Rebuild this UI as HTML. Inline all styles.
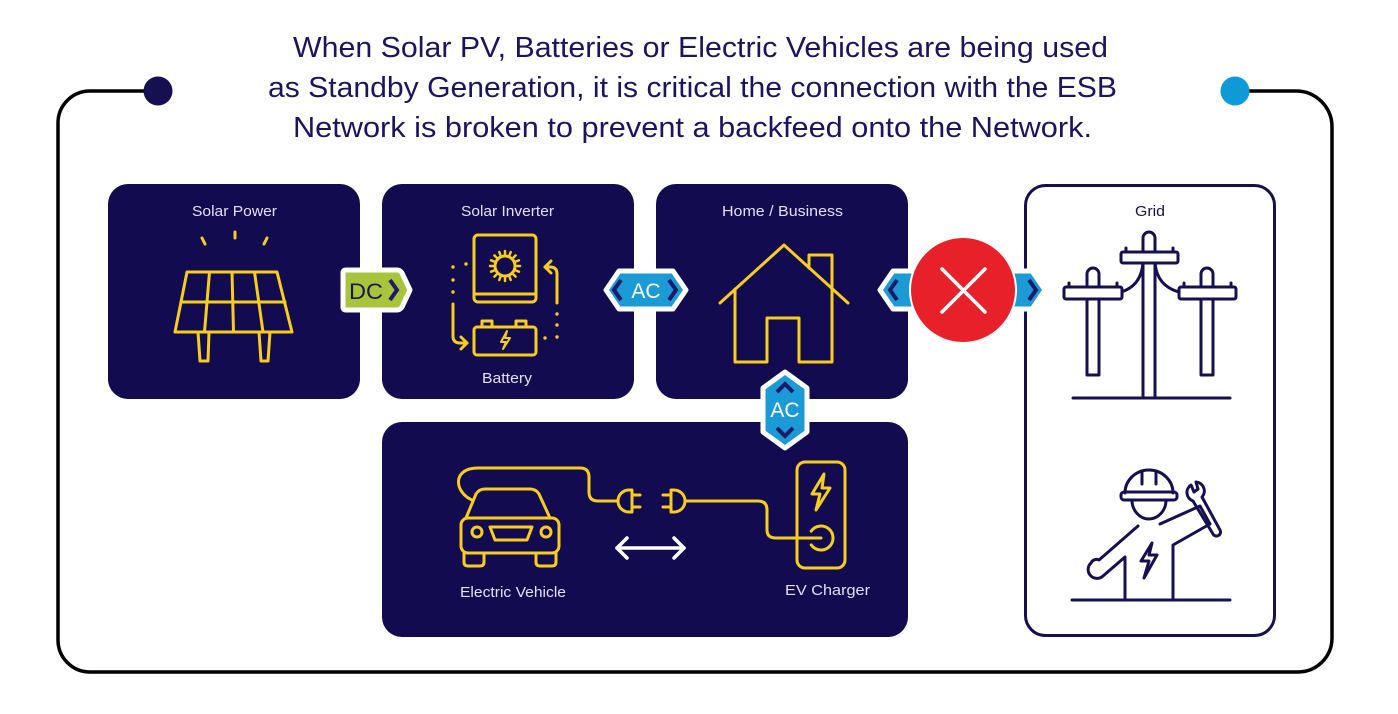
<!DOCTYPE html>
<html>
<head>
<meta charset="utf-8">
<style>
html,body{margin:0;padding:0;background:#fff;}
svg{display:block;}
</style>
</head>
<body>
<svg width="1398" height="714" viewBox="0 0 1398 714" xmlns="http://www.w3.org/2000/svg">
<rect width="1398" height="714" fill="#fff"/>

<!-- Title -->
<g font-family="'Liberation Sans', sans-serif" font-size="29" fill="#1b1560">
<text x="293" y="57" textLength="815" lengthAdjust="spacingAndGlyphs">When Solar PV, Batteries or Electric Vehicles are being used</text>
<text x="268" y="97" textLength="849" lengthAdjust="spacingAndGlyphs">as Standby Generation, it is critical the connection with the ESB</text>
<text x="293" y="137" textLength="799" lengthAdjust="spacingAndGlyphs">Network is broken to prevent a backfeed onto the Network.</text>
</g>

<!-- Frame -->
<path d="M158 91 L90 91 A32 32 0 0 0 58 123 L58 640 A32 32 0 0 0 90 672 L1298 672 A34 34 0 0 0 1332 638 L1332 127 A36 36 0 0 0 1296 91 L1235 91" fill="none" stroke="#000" stroke-width="3.5"/>
<circle cx="158" cy="91" r="14.5" fill="#15104f"/>
<circle cx="1235" cy="91" r="14.5" fill="#0e9ad7"/>

<!-- Dark boxes -->
<g fill="#130b4f">
<rect x="108" y="184" width="252" height="215" rx="20"/>
<rect x="382" y="184" width="252" height="215" rx="20"/>
<rect x="656" y="184" width="252" height="215" rx="20"/>
<rect x="382" y="422" width="526" height="215" rx="20"/>
</g>
<!-- Grid box -->
<rect x="1025.5" y="185.5" width="249" height="450" rx="20" fill="#fff" stroke="#15104f" stroke-width="3"/>

<!-- Labels -->
<g font-family="'Liberation Sans', sans-serif" font-size="15" fill="#e2def5">
<text x="192" y="216" textLength="85" lengthAdjust="spacingAndGlyphs">Solar Power</text>
<text x="461" y="216" textLength="93" lengthAdjust="spacingAndGlyphs">Solar Inverter</text>
<text x="482" y="383" textLength="50" lengthAdjust="spacingAndGlyphs">Battery</text>
<text x="722" y="216" textLength="121" lengthAdjust="spacingAndGlyphs">Home / Business</text>
<text x="460" y="597" textLength="106" lengthAdjust="spacingAndGlyphs">Electric Vehicle</text>
<text x="785" y="595" textLength="85" lengthAdjust="spacingAndGlyphs">EV Charger</text>
</g>
<text x="1135" y="216" font-family="'Liberation Sans', sans-serif" font-size="15" fill="#15104f" textLength="30" lengthAdjust="spacingAndGlyphs">Grid</text>

<!-- Yellow icons -->
<g fill="none" stroke="#f7cd1e" stroke-width="3" stroke-linecap="round" stroke-linejoin="round">
<!-- solar panel -->
<line x1="202" y1="238" x2="205" y2="244"/>
<line x1="235" y1="232" x2="235" y2="238"/>
<line x1="267" y1="238" x2="264" y2="244"/>
<path d="M187 272 L277 272 L292 332 L175 332 Z"/>
<line x1="181" y1="302" x2="285" y2="302"/>
<line x1="209.5" y1="272" x2="204.5" y2="332"/>
<line x1="232" y1="272" x2="233.5" y2="332"/>
<line x1="254.5" y1="272" x2="263" y2="332"/>
<path d="M198 332 L209 332 L208 361 L200 361 Z"/>
<path d="M259 332 L270 332 L268 361 L261 361 Z"/>

<!-- inverter -->
<rect x="474" y="235" width="62" height="67" rx="4"/>
<line x1="474" y1="294" x2="536" y2="294"/>
<circle cx="505" cy="266" r="10"/>
<g stroke-width="2.5">
<line x1="505" y1="251" x2="505" y2="254"/><line x1="505" y1="278" x2="505" y2="281"/>
<line x1="490" y1="266" x2="493" y2="266"/><line x1="517" y1="266" x2="520" y2="266"/>
<line x1="494.4" y1="255.4" x2="496.5" y2="257.5"/><line x1="513.5" y1="274.5" x2="515.6" y2="276.6"/>
<line x1="515.6" y1="255.4" x2="513.5" y2="257.5"/><line x1="496.5" y1="274.5" x2="494.4" y2="276.6"/>
<line x1="499.3" y1="252.1" x2="500.4" y2="254.9"/><line x1="509.6" y1="277.1" x2="510.7" y2="279.9"/>
<line x1="510.7" y1="252.1" x2="509.6" y2="254.9"/><line x1="500.4" y1="277.1" x2="499.3" y2="279.9"/>
<line x1="491.1" y1="260.3" x2="493.9" y2="261.4"/><line x1="516.1" y1="270.6" x2="518.9" y2="271.7"/>
<line x1="491.1" y1="271.7" x2="493.9" y2="270.6"/><line x1="516.1" y1="261.4" x2="518.9" y2="260.3"/>
</g>
<rect x="474" y="327" width="62" height="28" rx="3"/>
<rect x="482" y="321" width="10" height="6"/>
<rect x="516" y="321" width="10" height="6"/>
<path d="M507 331 L501 342 L506 342 L503 349 L510 338 L505 338 Z" stroke-width="2"/>
<!-- arrows around inverter -->
<path d="M453 304 L453 336 Q453 343 460 343 L467 343"/>
<path d="M461 337 L467 343 L461 349"/>
<path d="M557 303 L557 274 Q557 267 550 267 L545 267"/>
<path d="M551 261 L545 267 L551 273"/>
</g>
<g fill="#f7cd1e">
<circle cx="466" cy="264" r="1.7"/><circle cx="453" cy="267" r="1.7"/><circle cx="453" cy="280" r="1.7"/><circle cx="453" cy="292" r="1.7"/>
<circle cx="557" cy="314" r="1.7"/><circle cx="557" cy="325" r="1.7"/><circle cx="557" cy="337" r="1.7"/><circle cx="545" cy="338" r="1.7"/>
</g>

<g fill="none" stroke="#f7cd1e" stroke-width="3" stroke-linecap="round" stroke-linejoin="round">
<!-- house -->
<path d="M720 303 L784 245 L848 303"/>
<path d="M735 289 L735 362 L767 362 L767 318 L799 318 L799 362 L832 362 L832 289"/>
<path d="M809 268 L809 255 L832 255 L832 289"/>

<!-- car -->
<path d="M466 518 L476 494 Q479 489 485 489 L530 489 Q536 489 539 494 L550 518"/>
<rect x="461" y="518" width="98" height="35" rx="7"/>
<path d="M464 553 L464 562 Q464 566 468 566 L480 566 Q484 566 484 562 L484 553"/>
<path d="M536 553 L536 562 Q536 566 540 566 L552 566 Q556 566 556 562 L556 553"/>
<circle cx="477" cy="532" r="5"/>
<circle cx="546" cy="532" r="5"/>
<path d="M490 527 L532 527 L527 540 L495 540 Z"/>
<!-- cable 1 -->
<path d="M472 500 C454 492 452 468 478 468 L580 468 Q589 468 589 477 L589 492 Q589 501 598 501 L618 501"/>
<!-- plug 1 -->
<path d="M632 490 L629 490 A11 11 0 0 0 629 512 L632 512 Z"/>
<line x1="632" y1="495" x2="640" y2="495"/>
<line x1="632" y1="507" x2="640" y2="507"/>
<!-- plug 2 -->
<path d="M671 490 L674 490 A11 11 0 0 1 674 512 L671 512 Z"/>
<line x1="663" y1="495" x2="671" y2="495"/>
<line x1="663" y1="507" x2="671" y2="507"/>
<!-- cable 2 -->
<path d="M685 501 L758 501 Q767 501 767 510 L767 530 Q767 538 776 538 L821 538"/>
<!-- charger -->
<rect x="797" y="462" width="48" height="106" rx="8"/>
<path d="M824 474 L812 494 L820 494 L816 510 L830 488 L822 488 Z"/>
<path d="M811.2 531.1 A12 12 0 1 1 811.2 544.9"/>
</g>

<!-- double arrow -->
<g fill="none" stroke="#fff" stroke-width="3.5" stroke-linecap="round" stroke-linejoin="round">
<line x1="617" y1="548" x2="684" y2="548"/>
<path d="M627 538 L617 548 L627 558"/>
<path d="M674 538 L684 548 L674 558"/>
</g>

<!-- DC badge -->
<path d="M346 270 L397 270 Q400 270 402 273 L410 290 L402 307 Q400 310 397 310 L346 310 Q343 310 343 307 L343 273 Q343 270 346 270 Z" fill="#a8c43a" stroke="#fff" stroke-width="5" stroke-linejoin="round"/>
<text x="349" y="299" font-family="'Liberation Sans', sans-serif" font-size="22" fill="#1a1850" textLength="34" lengthAdjust="spacingAndGlyphs">DC</text>
<path d="M390 280 L397 290 L390 300" fill="none" stroke="#1e1a6b" stroke-width="4"/>

<!-- AC badge 1 (horizontal) -->
<path d="M606 290 L619 271 L673 271 L686 290 L673 309 L619 309 Z" fill="#1c9ad6" stroke="#fff" stroke-width="5" stroke-linejoin="round"/>
<path d="M621 280 L614 290 L621 300" fill="none" stroke="#1e1a6b" stroke-width="4"/>
<path d="M669 280 L676 290 L669 300" fill="none" stroke="#1e1a6b" stroke-width="4"/>
<text x="646" y="298" text-anchor="middle" font-family="'Liberation Sans', sans-serif" font-size="21" fill="#fff">AC</text>

<!-- AC badge 2 (home-grid) -->
<path d="M880 290 L893 271 L1032 271 L1045 290 L1032 309 L893 309 Z" fill="#1c9ad6" stroke="#fff" stroke-width="5" stroke-linejoin="round"/>
<path d="M897 280 L890 290 L897 300" fill="none" stroke="#1e1a6b" stroke-width="4"/>
<path d="M1029 280 L1036 290 L1029 300" fill="none" stroke="#1e1a6b" stroke-width="4"/>
<circle cx="963" cy="290" r="53" fill="#e8202a" stroke="#fff" stroke-width="2"/>
<g stroke="#fff" stroke-width="3.5" stroke-linecap="round">
<line x1="942" y1="269" x2="985" y2="312"/>
<line x1="985" y1="269" x2="942" y2="312"/>
</g>

<!-- AC badge 3 (vertical) -->
<path d="M785 372 L807 388 L807 432 L785 448 L763 432 L763 388 Z" fill="#1c9ad6" stroke="#fff" stroke-width="5" stroke-linejoin="round"/>
<path d="M777 392 L785 384 L793 392" fill="none" stroke="#1e1a6b" stroke-width="4"/>
<path d="M777 428 L785 436 L793 428" fill="none" stroke="#1e1a6b" stroke-width="4"/>
<text x="785" y="417" text-anchor="middle" font-family="'Liberation Sans', sans-serif" font-size="21" fill="#fff">AC</text>

<!-- Grid poles -->
<g fill="#fff" stroke="#15104f" stroke-width="3" stroke-linejoin="round" stroke-linecap="round">
<path d="M1143 398 L1143 238 A6 6 0 0 1 1155 238 L1155 398"/>
<path d="M1087 375 L1087 274 A6 6 0 0 1 1099 274 L1099 375 Z"/>
<path d="M1201 375 L1201 274 A6 6 0 0 1 1213 274 L1213 375 Z"/>
<path d="M1143 263 Q1141 286 1121 292" fill="none"/>
<path d="M1155 263 Q1157 286 1179 292" fill="none"/>
<rect x="1121" y="252" width="57" height="11" rx="2"/>
<rect x="1064" y="287" width="58" height="12" rx="2"/>
<rect x="1179" y="287" width="57" height="12" rx="2"/>
<line x1="1126" y1="248" x2="1126" y2="252"/>
<line x1="1173" y1="248" x2="1173" y2="252"/>
<line x1="1069" y1="283" x2="1069" y2="287"/>
<line x1="1117" y1="283" x2="1117" y2="287"/>
<line x1="1184" y1="283" x2="1184" y2="287"/>
<line x1="1231" y1="283" x2="1231" y2="287"/>
<line x1="1073" y1="398" x2="1230" y2="398"/>
</g>

<!-- Worker -->
<g fill="none" stroke="#15104f" stroke-width="3" stroke-linejoin="round" stroke-linecap="round">
<path d="M1125 493 A24 23 0 0 1 1173 493"/>
<path d="M1142 472 L1142 484 M1156 472 L1156 484"/>
<rect x="1121" y="492" width="56" height="8" rx="3"/>
<path d="M1132 500 A17 19 0 0 0 1166 500"/>
<path d="M1138 526 L1099 560 A6 6 0 0 0 1091 563 A7 7 0 0 0 1103 576 L1125 557 L1125 598"/>
<path d="M1173 598 L1173 545 L1210 524 L1200 506 L1160 524"/>
<path d="M1191 485 A9 9 0 0 0 1193 501 L1213 534 A4 4 0 0 0 1220 530 L1202 497 A9 9 0 0 0 1196 482 L1198 489 L1194 492 Z"/>
<path d="M1152 543 L1141 561 L1149 561 L1144 578 L1157 555 L1149 555 Z"/>
<line x1="1072" y1="600" x2="1230" y2="600"/>
</g>
</svg>
</body>
</html>
